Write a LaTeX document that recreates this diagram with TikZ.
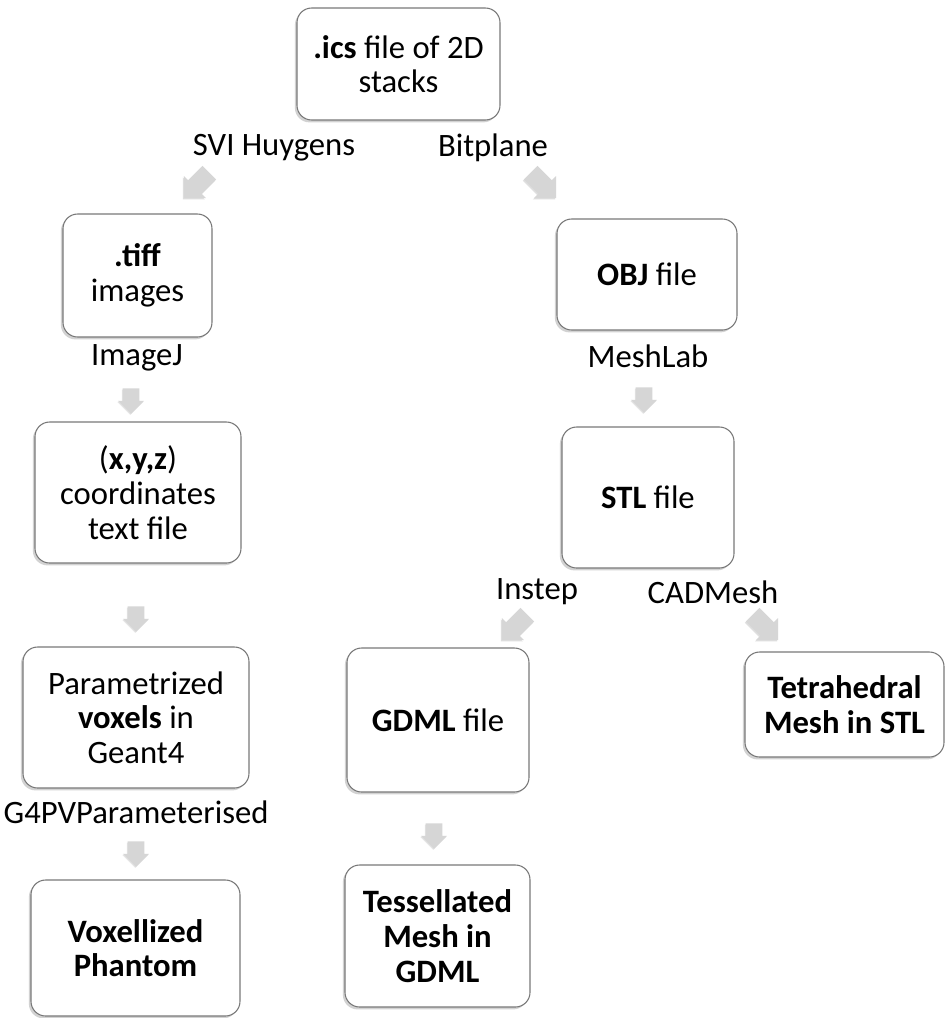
\documentclass[tikz,border=0pt]{standalone}
\usepackage{fontspec}
\setmainfont{Carlito}
\usetikzlibrary{shapes.arrows,shadows}
\definecolor{boxline}{RGB}{120,120,120}
\definecolor{arrowfill}{RGB}{214,214,214}
\begin{document}
\begin{tikzpicture}[x=0.75pt,y=-0.75pt,
  box/.style={draw=boxline, line width=0.8pt, fill=white, rounded corners=11pt,
    align=center, inner sep=2pt,
    font=\fontsize{24.5}{26}\selectfont,
    drop shadow={shadow xshift=-1.6pt, shadow yshift=-1.8pt, opacity=0.35, fill=gray}},
  lbl/.style={font=\fontsize{24.5}{26}\selectfont, inner sep=0pt},
  bigarrow/.style={single arrow, fill=arrowfill, draw=none, inner xsep=0pt, inner ysep=7pt,
    minimum width=0pt, minimum height=27pt, single arrow head extend=4.5pt,
    drop shadow={shadow xshift=-0.8pt, shadow yshift=-1pt, opacity=0.25, fill=gray}},
  smallarrow/.style={single arrow, fill=arrowfill, draw=none, inner xsep=0pt, inner ysep=6pt,
    minimum width=0pt, minimum height=19pt, single arrow head extend=3.5pt,
    rotate=-90,
    drop shadow={shadow xshift=-0.6pt, shadow yshift=-0.8pt, opacity=0.2, fill=gray}}
]
\useasboundingbox (0,0) rectangle (945,1018);
\fill[white] (0,0) rectangle (945,1018);

% boxes
\node[box, minimum width=152.25pt, minimum height=84pt] (ics) at (398.5,64) {\textbf{.ics} file of 2D\\stacks};
\node[box, minimum width=111.75pt, minimum height=92.25pt] (tiff) at (137.5,275.5) {\textbf{.tiff}\\images};
\node[box, minimum width=154.5pt, minimum height=105.75pt] (xyz) at (138,492.5) {(\textbf{x,y,z})\\coordinates\\text file};
\node[box, minimum width=169.5pt, minimum height=105.75pt] (param) at (136,717.5) {Parametrized\\\textbf{voxels} in\\Geant4};
\node[box, minimum width=156.75pt, minimum height=102pt] (vox) at (135.5,948) {\textbf{Voxellized}\\\textbf{Phantom}};
\node[box, minimum width=135pt, minimum height=83.25pt] (obj) at (647,274.5) {\textbf{OBJ} file};
\node[box, minimum width=129pt, minimum height=105.75pt] (stl) at (648,497.5) {\textbf{STL} file};
\node[box, minimum width=136.5pt, minimum height=108pt] (gdml) at (438,720) {\textbf{GDML} file};
\node[box, minimum width=138.75pt, minimum height=106.5pt] (tess) at (437.5,936) {\textbf{Tessellated}\\\textbf{Mesh in}\\\textbf{GDML}};
\node[box, minimum width=149.25pt, minimum height=78.75pt] (tet) at (844.5,704.5) {\textbf{Tetrahedral}\\\textbf{Mesh in STL}};

% labels
\node[lbl] (svi) at (274,148) {SVI Huygens};
\node[lbl] (bit) at (493,148) {Bitplane};
\node[lbl] (imj) at (137,358) {ImageJ};
\node[lbl] (msl) at (648,356) {MeshLab};
\node[lbl] (ins) at (537,592) {Instep};
\node[lbl] (cad) at (713,592) {CADMesh};
\node[lbl] (g4) at (136,812) {G4PVParameterised};

% block arrows
\node[bigarrow, rotate=-135] (a1) at (200,182) {};
\node[bigarrow, rotate=-45] (a2) at (540,182) {};
\node[bigarrow, rotate=-135] (a3) at (518,624) {};
\node[bigarrow, rotate=-45] (a4) at (762,624) {};
\node[smallarrow] (a5) at (131,397) {};
\node[smallarrow] (a6) at (644,396) {};
\node[smallarrow] (a7) at (136,615) {};
\node[smallarrow] (a8) at (136,850) {};
\node[smallarrow] (a9) at (434,832) {};
\end{tikzpicture}
\end{document}
